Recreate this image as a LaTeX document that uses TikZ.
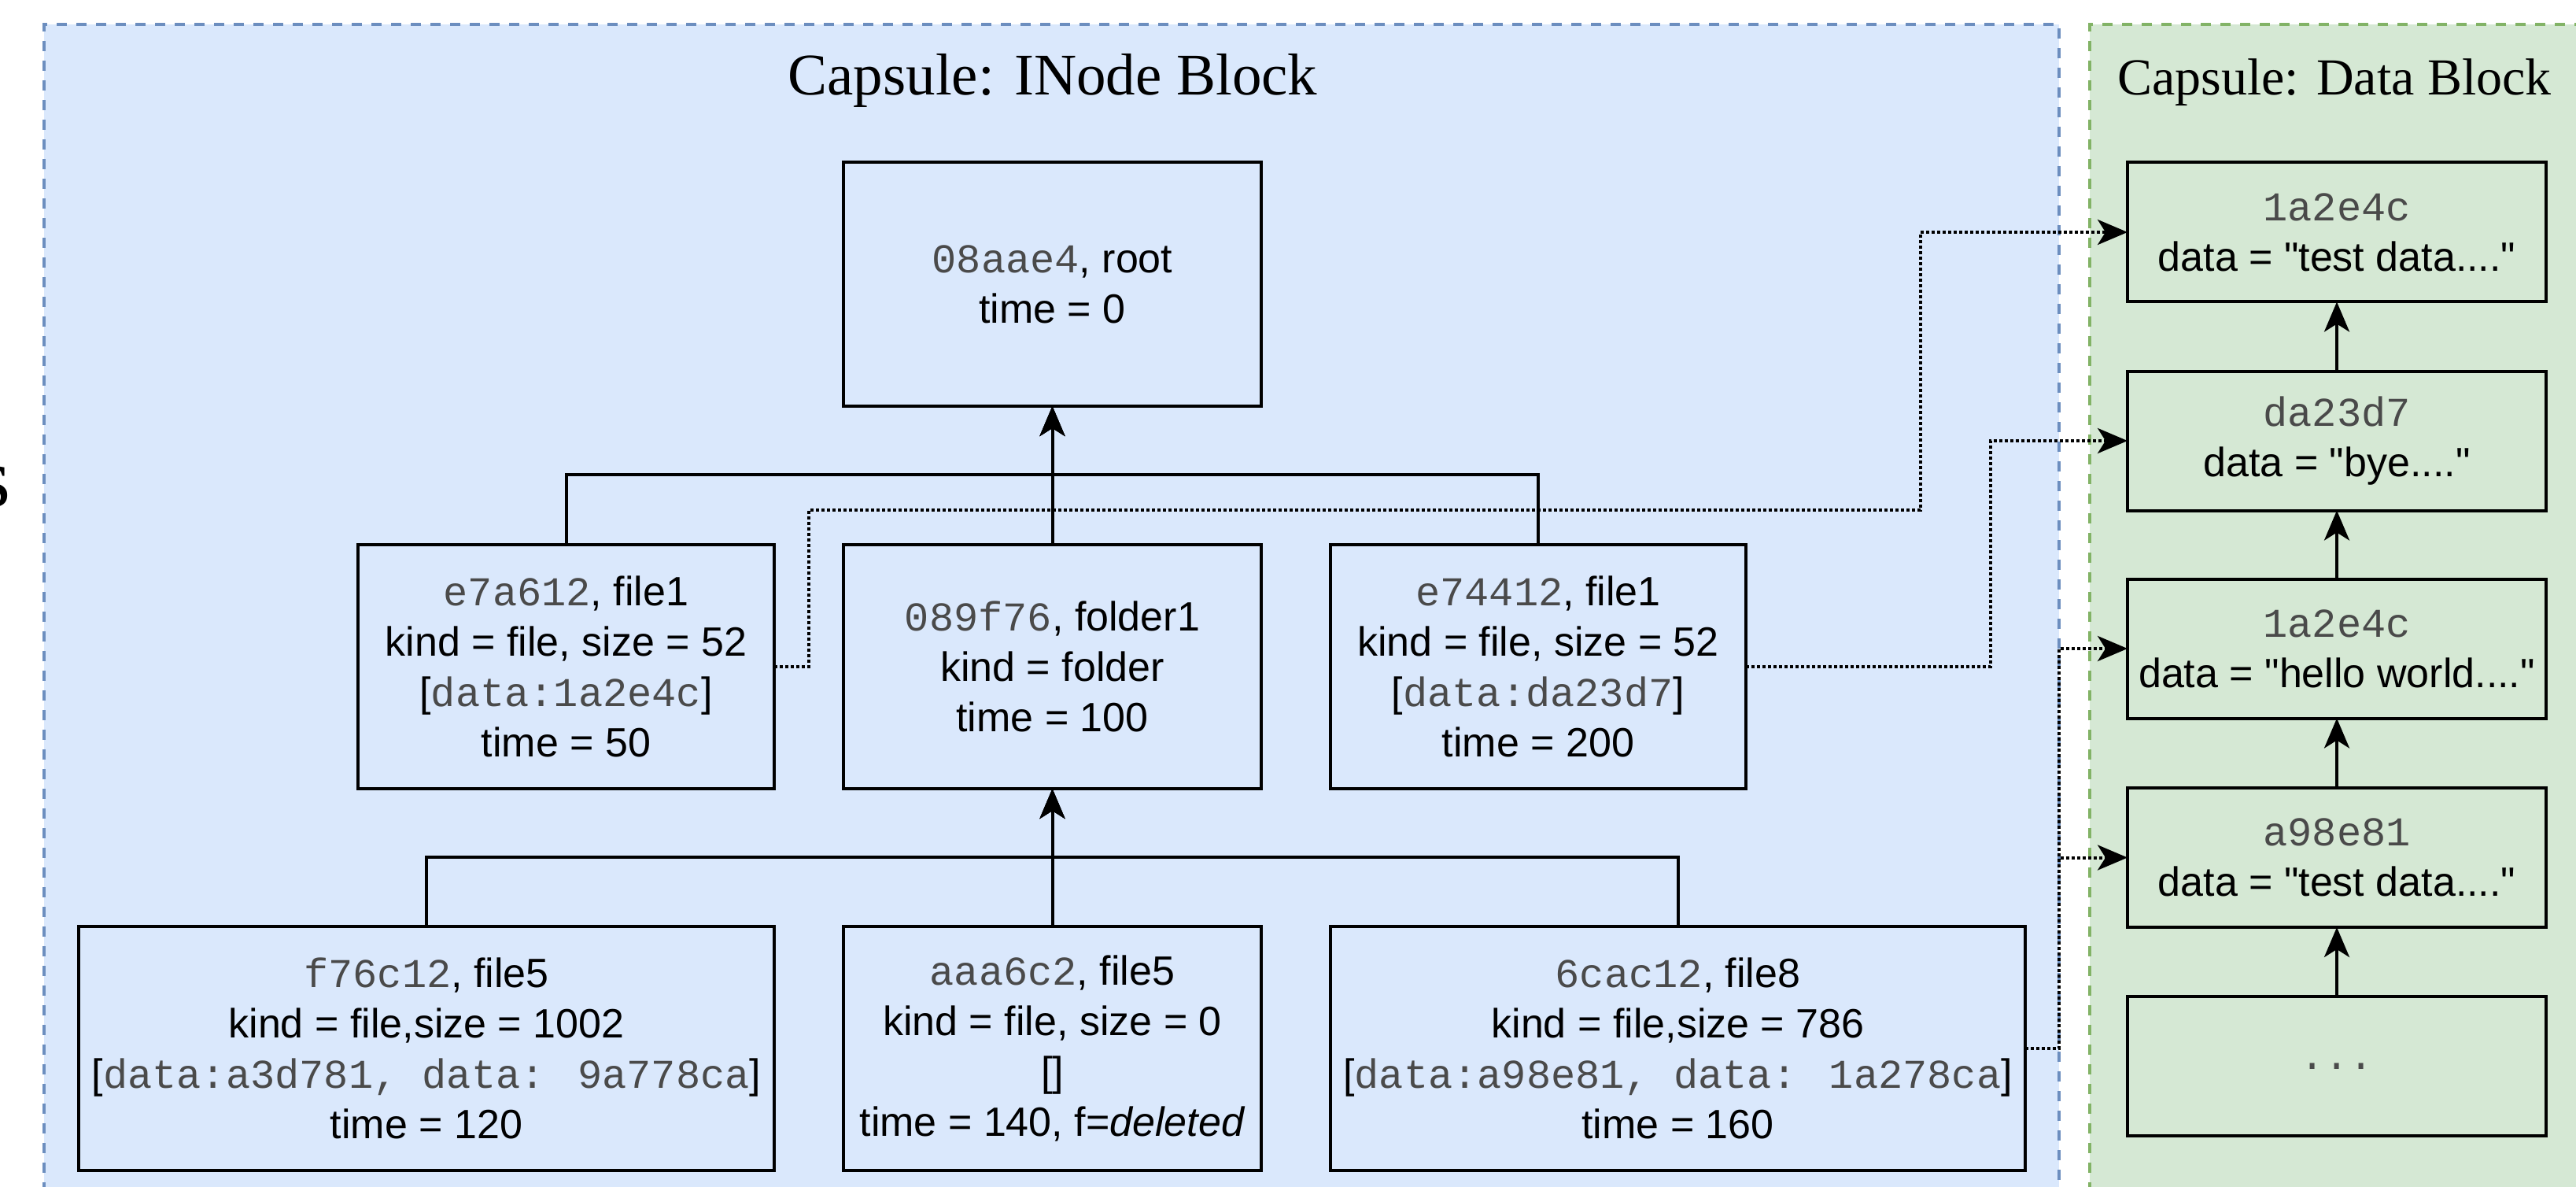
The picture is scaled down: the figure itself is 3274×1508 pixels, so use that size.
\documentclass[tikz,border=0pt]{standalone}
\usepackage{fontspec}
\setmainfont{Liberation Serif}
\newfontfamily\sansf{Liberation Sans}
\newfontfamily\monof{Liberation Mono}
\usetikzlibrary{arrows.meta}
\definecolor{blueF}{HTML}{DAE8FC}
\definecolor{blueD}{HTML}{6C8EBF}
\definecolor{greenF}{HTML}{D5E8D4}
\definecolor{greenD}{HTML}{82B366}
\definecolor{monoC}{HTML}{4A4A4A}
\newcommand{\hx}[1]{{\monof\color{monoC}#1}}
\begin{document}
\begin{tikzpicture}[x=0.5pt,y=-0.5pt,
  ibox/.style={draw=black, fill=blueF, line width=2pt, align=center, inner sep=0pt, outer sep=0pt,
    font=\sansf\fontsize{26pt}{32pt}\selectfont},
  dbox/.style={ibox, fill=greenF, minimum width=266pt, minimum height=88.5pt},
  tarr/.style={line width=2pt, -{Stealth[length=19pt,width=16pt,inset=5pt]}},
  darr/.style={line width=2pt, dash pattern=on 2pt off 1.5pt, -{Stealth[length=19pt,width=16pt,inset=5pt]}},
  title/.style={anchor=base, inner sep=0pt}]
\useasboundingbox (0,0) rectangle (3274,1508);
\fill[white] (0,0) rectangle (3274,1508);
% containers
\fill[blueF] (56,31) rectangle (2617,1540);
\draw[blueD, line width=2pt, dash pattern=on 6.5pt off 6pt]
  (56,1540) -- (56,31) -- (2617,31) -- (2617,1540);
\fill[greenF] (2656,31) rectangle (3300,1540);
\draw[greenD, line width=2pt, dash pattern=on 6.5pt off 6pt]
  (2656,1540) -- (2656,31) -- (3300,31);
% cut-off letter at the left edge
\node[anchor=base east, inner sep=0pt, font=\fontsize{54pt}{60pt}\selectfont] (sfrag) at (14,643) {s};
% titles
\node[title, font=\fontsize{37.5pt}{45pt}\selectfont] (t1) at (1338,121) {Capsule: INode Block};
\node[title, font=\fontsize{33pt}{40pt}\selectfont] (t2) at (2967,121) {Capsule: Data Block};
% inode boxes
\node[ibox, minimum width=265.5pt, minimum height=155pt] (root) at (1337.5,361)
  {\hx{08aae4}, root\\time = 0};
\node[ibox, minimum width=264.5pt, minimum height=155pt] (e7) at (719.5,847)
  {\hx{e7a612}, file1\\kind = file, size = 52\\{[}\hx{data:1a2e4c}{]}\\time = 50};
\node[ibox, minimum width=265.5pt, minimum height=155pt] (fold) at (1337.5,847)
  {\hx{089f76}, folder1\\kind = folder\\time = 100};
\node[ibox, minimum width=264pt, minimum height=155pt] (e74) at (1955,847)
  {\hx{e74412}, file1\\kind = file, size = 52\\{[}\hx{data:da23d7}{]}\\time = 200};
\node[ibox, minimum width=442pt, minimum height=155pt] (f76) at (542,1332)
  {\hx{f76c12}, file5\\kind = file,size = 1002\\{[}\hx{data:a3d781, data: 9a778ca}{]}\\time = 120};
\node[ibox, minimum width=265.5pt, minimum height=155pt] (aaa) at (1337.5,1332)
  {\hx{aaa6c2}, file5\\kind = file, size = 0\\{[]}\\time = 140, f=\textit{deleted}};
\node[ibox, minimum width=441.5pt, minimum height=155pt] (cac) at (2132.5,1332)
  {\hx{6cac12}, file8\\kind = file,size = 786\\{[}\hx{data:a98e81, data: 1a278ca}{]}\\time = 160};
% data boxes
\node[dbox] (d1) at (2970,295) {\hx{1a2e4c}\\data = "test data...."};
\node[dbox] (d2) at (2970,560) {\hx{da23d7}\\data = "bye...."};
\node[dbox] (d3) at (2970,824) {\hx{1a2e4c}\\data = "hello world...."};
\node[dbox] (d4) at (2970,1089.5) {\hx{a98e81}\\data = "test data...."};
\node[dbox] (d5) at (2970,1354.5) {\hx{...}};
% tree connectors
\coordinate (b1) at (1337.5,603);
\coordinate (b2) at (1337.5,1089);
\draw[tarr] (e7.north) |- (b1) -- (root.south);
\draw[tarr] (e74.north) |- (b1) -- (root.south);
\draw[tarr] (fold.north) -- (root.south);
\draw[tarr] (f76.north) |- (b2) -- (fold.south);
\draw[tarr] (cac.north) |- (b2) -- (fold.south);
\draw[tarr] (aaa.north) -- (fold.south);
% data chain
\draw[tarr] (d2.north) -- (d1.south);
\draw[tarr] (d3.north) -- (d2.south);
\draw[tarr] (d4.north) -- (d3.south);
\draw[tarr] (d5.north) -- (d4.south);
% dotted references
\coordinate (k1) at (1028,648);
\coordinate (k2) at (2441,648);
\coordinate (k3) at (2530,560);
\coordinate (k4) at (2617,824);
\coordinate (k5) at (2617,1089.5);
\draw[darr] (e7.east) -| (k1) -- (k2) |- (d1.west);
\draw[darr] (e74.east) -| (k3) -- (d2.west);
\draw[darr] (cac.east) -| (k4) -- (d3.west);
\draw[darr] (cac.east) -| (k5) -- (d4.west);
\end{tikzpicture}
\end{document}
